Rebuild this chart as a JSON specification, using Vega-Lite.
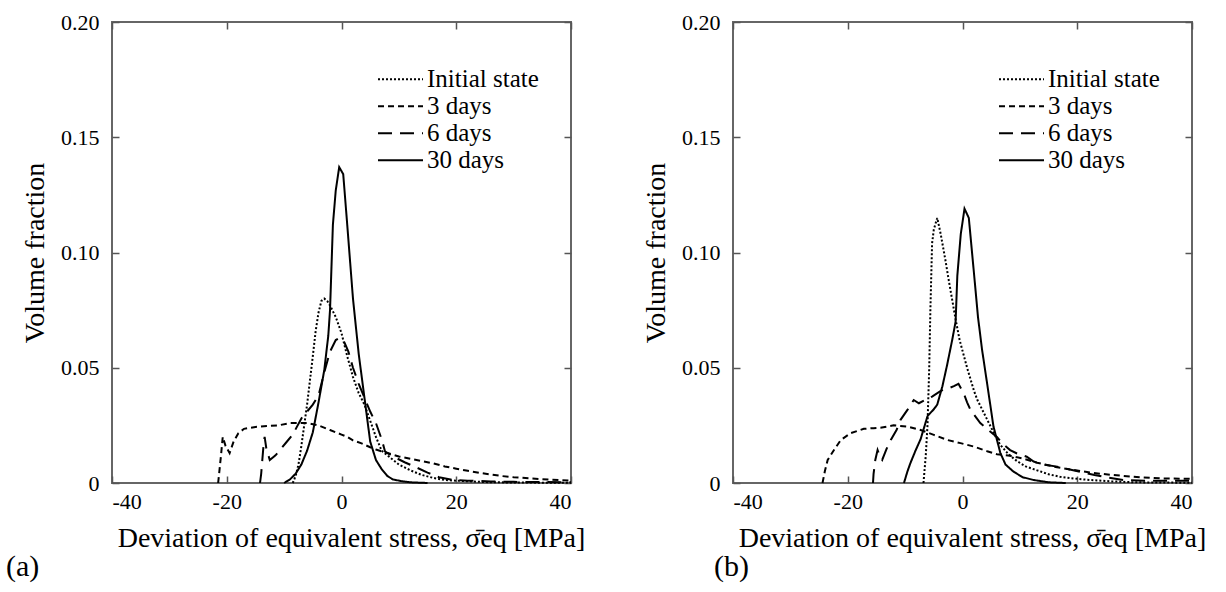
{
  "$schema": "https://vega.github.io/schema/vega-lite/v6.json",
  "padding": {"left": 5, "top": 10, "right": 5, "bottom": 2},
  "background": "white",
  "config": {
    "font": "Liberation Serif, DejaVu Serif, serif",
    "view": {"stroke": "#666", "strokeWidth": 2},
    "axis": {
      "grid": false,
      "domain": false,
      "tickColor": "#555",
      "tickWidth": 1.5,
      "tickSize": -7,
      "labelFont": "Liberation Serif, DejaVu Serif, serif",
      "labelFontSize": 22,
      "labelColor": "black",
      "titleFont": "Liberation Serif, DejaVu Serif, serif",
      "titleFontSize": 28,
      "titleFontWeight": "normal",
      "titleColor": "black"
    },
    "legend": {
      "labelFont": "Liberation Serif, DejaVu Serif, serif",
      "labelFontSize": 25,
      "labelColor": "black"
    }
  },
  "datasets": {
    "a": [
      {"series": "Initial state", "x": -8.5, "y": 0},
      {"series": "Initial state", "x": -8, "y": 0.003},
      {"series": "Initial state", "x": -7.5, "y": 0.008},
      {"series": "Initial state", "x": -7, "y": 0.016},
      {"series": "Initial state", "x": -6, "y": 0.034},
      {"series": "Initial state", "x": -5, "y": 0.055},
      {"series": "Initial state", "x": -4.5, "y": 0.066},
      {"series": "Initial state", "x": -4, "y": 0.074},
      {"series": "Initial state", "x": -3.5, "y": 0.079},
      {"series": "Initial state", "x": -3, "y": 0.080},
      {"series": "Initial state", "x": -2.5, "y": 0.079},
      {"series": "Initial state", "x": -2, "y": 0.077},
      {"series": "Initial state", "x": -1, "y": 0.072},
      {"series": "Initial state", "x": 0, "y": 0.065},
      {"series": "Initial state", "x": 1, "y": 0.055},
      {"series": "Initial state", "x": 2, "y": 0.046},
      {"series": "Initial state", "x": 3, "y": 0.039},
      {"series": "Initial state", "x": 4, "y": 0.034},
      {"series": "Initial state", "x": 5, "y": 0.027},
      {"series": "Initial state", "x": 6, "y": 0.020},
      {"series": "Initial state", "x": 7, "y": 0.014},
      {"series": "Initial state", "x": 8, "y": 0.012},
      {"series": "Initial state", "x": 9, "y": 0.010},
      {"series": "Initial state", "x": 10, "y": 0.008},
      {"series": "Initial state", "x": 12, "y": 0.0055},
      {"series": "Initial state", "x": 14, "y": 0.0035},
      {"series": "Initial state", "x": 16, "y": 0.0022},
      {"series": "Initial state", "x": 18, "y": 0.0013},
      {"series": "Initial state", "x": 20, "y": 0.001},
      {"series": "Initial state", "x": 25, "y": 0.0004},
      {"series": "Initial state", "x": 30, "y": 0.0002},
      {"series": "Initial state", "x": 40, "y": 0.0001},

      {"series": "3 days", "x": -21.5, "y": 0},
      {"series": "3 days", "x": -21, "y": 0.012},
      {"series": "3 days", "x": -20.7, "y": 0.020},
      {"series": "3 days", "x": -20.2, "y": 0.016},
      {"series": "3 days", "x": -19.5, "y": 0.013},
      {"series": "3 days", "x": -18.8, "y": 0.018},
      {"series": "3 days", "x": -18, "y": 0.0215},
      {"series": "3 days", "x": -17, "y": 0.0235},
      {"series": "3 days", "x": -15, "y": 0.0243},
      {"series": "3 days", "x": -13, "y": 0.0247},
      {"series": "3 days", "x": -11, "y": 0.025},
      {"series": "3 days", "x": -9, "y": 0.026},
      {"series": "3 days", "x": -6, "y": 0.026},
      {"series": "3 days", "x": -4, "y": 0.025},
      {"series": "3 days", "x": -2, "y": 0.023},
      {"series": "3 days", "x": 0, "y": 0.021},
      {"series": "3 days", "x": 1, "y": 0.020},
      {"series": "3 days", "x": 2, "y": 0.0185},
      {"series": "3 days", "x": 3.5, "y": 0.0172},
      {"series": "3 days", "x": 5, "y": 0.0155},
      {"series": "3 days", "x": 6, "y": 0.0145},
      {"series": "3 days", "x": 8, "y": 0.013},
      {"series": "3 days", "x": 10, "y": 0.0115},
      {"series": "3 days", "x": 12, "y": 0.0105},
      {"series": "3 days", "x": 14, "y": 0.0095},
      {"series": "3 days", "x": 16, "y": 0.0085},
      {"series": "3 days", "x": 18, "y": 0.0072},
      {"series": "3 days", "x": 20, "y": 0.0062},
      {"series": "3 days", "x": 22, "y": 0.0053},
      {"series": "3 days", "x": 24, "y": 0.0044},
      {"series": "3 days", "x": 26, "y": 0.0037},
      {"series": "3 days", "x": 28, "y": 0.003},
      {"series": "3 days", "x": 30, "y": 0.0025},
      {"series": "3 days", "x": 33, "y": 0.002},
      {"series": "3 days", "x": 36, "y": 0.0015},
      {"series": "3 days", "x": 40, "y": 0.001},

      {"series": "6 days", "x": -14.2, "y": 0},
      {"series": "6 days", "x": -14, "y": 0.004},
      {"series": "6 days", "x": -13.6, "y": 0.016},
      {"series": "6 days", "x": -13.4, "y": 0.020},
      {"series": "6 days", "x": -13.1, "y": 0.015},
      {"series": "6 days", "x": -12.5, "y": 0.010},
      {"series": "6 days", "x": -11.5, "y": 0.012},
      {"series": "6 days", "x": -10.5, "y": 0.015},
      {"series": "6 days", "x": -9.5, "y": 0.018},
      {"series": "6 days", "x": -8.5, "y": 0.021},
      {"series": "6 days", "x": -7, "y": 0.028},
      {"series": "6 days", "x": -6, "y": 0.031},
      {"series": "6 days", "x": -5, "y": 0.034},
      {"series": "6 days", "x": -4, "y": 0.038},
      {"series": "6 days", "x": -3, "y": 0.048},
      {"series": "6 days", "x": -2, "y": 0.057},
      {"series": "6 days", "x": -1, "y": 0.062},
      {"series": "6 days", "x": -0.3, "y": 0.063},
      {"series": "6 days", "x": 0.5, "y": 0.061},
      {"series": "6 days", "x": 1.2, "y": 0.057},
      {"series": "6 days", "x": 2, "y": 0.050},
      {"series": "6 days", "x": 3, "y": 0.043},
      {"series": "6 days", "x": 4, "y": 0.037},
      {"series": "6 days", "x": 5, "y": 0.031},
      {"series": "6 days", "x": 6, "y": 0.026},
      {"series": "6 days", "x": 7, "y": 0.019},
      {"series": "6 days", "x": 7.6, "y": 0.0136},
      {"series": "6 days", "x": 9, "y": 0.0115},
      {"series": "6 days", "x": 11, "y": 0.009},
      {"series": "6 days", "x": 13, "y": 0.0068},
      {"series": "6 days", "x": 15, "y": 0.0045},
      {"series": "6 days", "x": 17, "y": 0.0025},
      {"series": "6 days", "x": 19, "y": 0.0015},
      {"series": "6 days", "x": 22, "y": 0.001},
      {"series": "6 days", "x": 26, "y": 0.0007},
      {"series": "6 days", "x": 30, "y": 0.0005},
      {"series": "6 days", "x": 40, "y": 0.0003},

      {"series": "30 days", "x": -10, "y": 0},
      {"series": "30 days", "x": -9, "y": 0.0015},
      {"series": "30 days", "x": -8, "y": 0.004},
      {"series": "30 days", "x": -7, "y": 0.008},
      {"series": "30 days", "x": -6, "y": 0.014},
      {"series": "30 days", "x": -5, "y": 0.022},
      {"series": "30 days", "x": -4, "y": 0.035},
      {"series": "30 days", "x": -3, "y": 0.049},
      {"series": "30 days", "x": -2.3, "y": 0.064},
      {"series": "30 days", "x": -2, "y": 0.075},
      {"series": "30 days", "x": -1.5, "y": 0.112},
      {"series": "30 days", "x": -1, "y": 0.127},
      {"series": "30 days", "x": -0.4, "y": 0.137},
      {"series": "30 days", "x": 0.3, "y": 0.134},
      {"series": "30 days", "x": 1, "y": 0.112},
      {"series": "30 days", "x": 2, "y": 0.080},
      {"series": "30 days", "x": 3, "y": 0.056},
      {"series": "30 days", "x": 4, "y": 0.037},
      {"series": "30 days", "x": 5, "y": 0.018},
      {"series": "30 days", "x": 6, "y": 0.010},
      {"series": "30 days", "x": 7, "y": 0.006},
      {"series": "30 days", "x": 8, "y": 0.003},
      {"series": "30 days", "x": 9, "y": 0.0015},
      {"series": "30 days", "x": 10.5, "y": 0.0008},
      {"series": "30 days", "x": 12, "y": 0.0003},
      {"series": "30 days", "x": 15, "y": 0}
    ],
    "b": [
      {"series": "Initial state", "x": -6.8, "y": 0},
      {"series": "Initial state", "x": -6.4, "y": 0.012},
      {"series": "Initial state", "x": -6.1, "y": 0.025},
      {"series": "Initial state", "x": -5.8, "y": 0.05},
      {"series": "Initial state", "x": -5.6, "y": 0.075},
      {"series": "Initial state", "x": -5.3, "y": 0.104},
      {"series": "Initial state", "x": -5, "y": 0.110},
      {"series": "Initial state", "x": -4.4, "y": 0.115},
      {"series": "Initial state", "x": -3.8, "y": 0.108},
      {"series": "Initial state", "x": -3, "y": 0.097},
      {"series": "Initial state", "x": -2.4, "y": 0.088},
      {"series": "Initial state", "x": -1.2, "y": 0.071},
      {"series": "Initial state", "x": -0.5, "y": 0.062},
      {"series": "Initial state", "x": 0.8, "y": 0.050},
      {"series": "Initial state", "x": 2, "y": 0.040},
      {"series": "Initial state", "x": 2.6, "y": 0.036},
      {"series": "Initial state", "x": 4, "y": 0.029},
      {"series": "Initial state", "x": 4.9, "y": 0.0245},
      {"series": "Initial state", "x": 6, "y": 0.019},
      {"series": "Initial state", "x": 6.6, "y": 0.0165},
      {"series": "Initial state", "x": 8, "y": 0.0125},
      {"series": "Initial state", "x": 9.5, "y": 0.0095},
      {"series": "Initial state", "x": 11, "y": 0.0072},
      {"series": "Initial state", "x": 13, "y": 0.0055},
      {"series": "Initial state", "x": 15, "y": 0.0038},
      {"series": "Initial state", "x": 17, "y": 0.0027},
      {"series": "Initial state", "x": 20, "y": 0.0018},
      {"series": "Initial state", "x": 22.3, "y": 0.0013},
      {"series": "Initial state", "x": 26, "y": 0.0007},
      {"series": "Initial state", "x": 30, "y": 0.0003},
      {"series": "Initial state", "x": 40, "y": 0.0001},

      {"series": "3 days", "x": -24.4, "y": 0},
      {"series": "3 days", "x": -24, "y": 0.005},
      {"series": "3 days", "x": -23.5, "y": 0.010},
      {"series": "3 days", "x": -22.4, "y": 0.0143},
      {"series": "3 days", "x": -21.2, "y": 0.0187},
      {"series": "3 days", "x": -19.5, "y": 0.0216},
      {"series": "3 days", "x": -17.2, "y": 0.0235},
      {"series": "3 days", "x": -15.5, "y": 0.0238},
      {"series": "3 days", "x": -14.3, "y": 0.024},
      {"series": "3 days", "x": -12, "y": 0.025},
      {"series": "3 days", "x": -9.6, "y": 0.0245},
      {"series": "3 days", "x": -7.3, "y": 0.023},
      {"series": "3 days", "x": -5, "y": 0.0209},
      {"series": "3 days", "x": -2.7, "y": 0.0187},
      {"series": "3 days", "x": -0.35, "y": 0.0173},
      {"series": "3 days", "x": 2, "y": 0.0158},
      {"series": "3 days", "x": 4.3, "y": 0.0138},
      {"series": "3 days", "x": 6, "y": 0.0125},
      {"series": "3 days", "x": 8.3, "y": 0.0118},
      {"series": "3 days", "x": 10.7, "y": 0.0105},
      {"series": "3 days", "x": 13, "y": 0.0088},
      {"series": "3 days", "x": 16.5, "y": 0.0068},
      {"series": "3 days", "x": 19, "y": 0.0058},
      {"series": "3 days", "x": 22.3, "y": 0.0045},
      {"series": "3 days", "x": 26, "y": 0.0035},
      {"series": "3 days", "x": 31, "y": 0.0025},
      {"series": "3 days", "x": 35, "y": 0.002},
      {"series": "3 days", "x": 40, "y": 0.0018},

      {"series": "6 days", "x": -15.6, "y": 0},
      {"series": "6 days", "x": -15.5, "y": 0.004},
      {"series": "6 days", "x": -15.2, "y": 0.010},
      {"series": "6 days", "x": -14.8, "y": 0.0143},
      {"series": "6 days", "x": -14.3, "y": 0.011},
      {"series": "6 days", "x": -14, "y": 0.010},
      {"series": "6 days", "x": -13.2, "y": 0.015},
      {"series": "6 days", "x": -12.5, "y": 0.0187},
      {"series": "6 days", "x": -11.5, "y": 0.023},
      {"series": "6 days", "x": -10.8, "y": 0.0274},
      {"series": "6 days", "x": -9.6, "y": 0.0317},
      {"series": "6 days", "x": -8.5, "y": 0.036},
      {"series": "6 days", "x": -7.6, "y": 0.0346},
      {"series": "6 days", "x": -6.5, "y": 0.036},
      {"series": "6 days", "x": -5.3, "y": 0.0375},
      {"series": "6 days", "x": -3.8, "y": 0.040},
      {"series": "6 days", "x": -2.5, "y": 0.041},
      {"series": "6 days", "x": -1.5, "y": 0.042},
      {"series": "6 days", "x": -0.7, "y": 0.043},
      {"series": "6 days", "x": 0.2, "y": 0.039},
      {"series": "6 days", "x": 0.8, "y": 0.035},
      {"series": "6 days", "x": 1.4, "y": 0.0317},
      {"series": "6 days", "x": 2.2, "y": 0.029},
      {"series": "6 days", "x": 3.1, "y": 0.026},
      {"series": "6 days", "x": 4.5, "y": 0.023},
      {"series": "6 days", "x": 6, "y": 0.020},
      {"series": "6 days", "x": 7, "y": 0.017},
      {"series": "6 days", "x": 8.3, "y": 0.0143},
      {"series": "6 days", "x": 9.5, "y": 0.0128},
      {"series": "6 days", "x": 11.2, "y": 0.0114},
      {"series": "6 days", "x": 12.4, "y": 0.0093},
      {"series": "6 days", "x": 14, "y": 0.008},
      {"series": "6 days", "x": 16.5, "y": 0.0071},
      {"series": "6 days", "x": 18.5, "y": 0.006},
      {"series": "6 days", "x": 20.5, "y": 0.0049},
      {"series": "6 days", "x": 23, "y": 0.0035},
      {"series": "6 days", "x": 25, "y": 0.0025},
      {"series": "6 days", "x": 28, "y": 0.0013},
      {"series": "6 days", "x": 32, "y": 0.001},
      {"series": "6 days", "x": 36, "y": 0.001},
      {"series": "6 days", "x": 40, "y": 0.001},

      {"series": "30 days", "x": -10.2, "y": 0},
      {"series": "30 days", "x": -9.6, "y": 0.005},
      {"series": "30 days", "x": -9.1, "y": 0.0085},
      {"series": "30 days", "x": -8.2, "y": 0.014},
      {"series": "30 days", "x": -7.3, "y": 0.019},
      {"series": "30 days", "x": -6.1, "y": 0.029},
      {"series": "30 days", "x": -5, "y": 0.032},
      {"series": "30 days", "x": -4.4, "y": 0.034},
      {"series": "30 days", "x": -3.5, "y": 0.042},
      {"series": "30 days", "x": -2.7, "y": 0.051},
      {"series": "30 days", "x": -1.8, "y": 0.062},
      {"series": "30 days", "x": -1.2, "y": 0.070},
      {"series": "30 days", "x": -0.9, "y": 0.090},
      {"series": "30 days", "x": -0.3, "y": 0.108},
      {"series": "30 days", "x": 0.35, "y": 0.119},
      {"series": "30 days", "x": 1.1, "y": 0.115},
      {"series": "30 days", "x": 2, "y": 0.091},
      {"series": "30 days", "x": 2.7, "y": 0.072},
      {"series": "30 days", "x": 3.4, "y": 0.058},
      {"series": "30 days", "x": 4.3, "y": 0.043},
      {"series": "30 days", "x": 5.4, "y": 0.0245},
      {"series": "30 days", "x": 6.6, "y": 0.013},
      {"series": "30 days", "x": 7.5, "y": 0.008},
      {"series": "30 days", "x": 8.9, "y": 0.0049},
      {"series": "30 days", "x": 10.5, "y": 0.0025},
      {"series": "30 days", "x": 12.4, "y": 0.0013},
      {"series": "30 days", "x": 15, "y": 0.0003},
      {"series": "30 days", "x": 18, "y": 0}
    ]
  },
  "bounds": "flush",
  "spacing": 162,
  "resolve": {"scale": {"strokeDash": "independent"}, "legend": {"strokeDash": "independent"}},
  "hconcat": [
    {
      "width": 459,
      "height": 461,
      "data": {"name": "a"},
      "title": {"text": "(a)", "orient": "bottom", "anchor": "start", "frame": "group", "dx": -106, "offset": 0, "fontSize": 30, "fontWeight": "normal", "font": "Liberation Serif, DejaVu Serif, serif", "color": "black"},
      "layer": [
        {
          "mark": {"type": "line", "color": "black", "strokeWidth": 2},
          "encoding": {
            "x": {"field": "x", "type": "quantitative", "scale": {"domain": [-40, 40], "nice": false, "zero": false}, "axis": {"orient": "bottom", "values": [-40, -20, 0, 20, 40], "labelExpr": "'' + datum.value", "labelPadding": 15, "title": "Deviation of equivalent stress, σ̄eq  [MPa]", "titlePadding": 12, "titleX": 239}},
            "y": {"field": "y", "type": "quantitative", "scale": {"domain": [0, 0.2], "nice": false}, "axis": {"orient": "left", "values": [0, 0.05, 0.1, 0.15, 0.2], "labelExpr": "datum.value == 0 ? '0' : format(datum.value, '.2f')", "labelPadding": 20, "title": "Volume fraction", "titlePadding": 11}},
            "strokeDash": {"field": "series", "type": "nominal", "scale": {"domain": ["Initial state", "3 days", "6 days", "30 days"], "range": [[2, 2], [6, 4], [14, 8], [1, 0]]}, "legend": {"orient": "none", "legendX": 265, "legendY": 44, "title": null, "symbolType": "stroke", "symbolSize": 2025, "symbolStrokeWidth": 2, "symbolStrokeColor": "black", "labelOffset": 3, "rowPadding": 0, "clipHeight": 26.5}}
          }
        },
        {
          "mark": {"type": "line", "strokeOpacity": 0},
          "encoding": {
            "x": {"field": "x", "type": "quantitative", "scale": {"domain": [-40, 40], "nice": false, "zero": false}, "axis": {"orient": "top", "values": [-40, -20, 0, 20, 40], "labels": false, "title": null}},
            "y": {"field": "y", "type": "quantitative", "scale": {"domain": [0, 0.2], "nice": false}, "axis": {"orient": "right", "values": [0, 0.05, 0.1, 0.15, 0.2], "labels": false, "title": null}},
            "detail": {"field": "series"}
          }
        }
      ],
      "resolve": {"axis": {"x": "independent", "y": "independent"}}
    },
    {
      "width": 459,
      "height": 461,
      "data": {"name": "b"},
      "title": {"text": "(b)", "orient": "bottom", "anchor": "start", "frame": "group", "dx": -19, "offset": 0, "fontSize": 30, "fontWeight": "normal", "font": "Liberation Serif, DejaVu Serif, serif", "color": "black"},
      "layer": [
        {
          "mark": {"type": "line", "color": "black", "strokeWidth": 2},
          "encoding": {
            "x": {"field": "x", "type": "quantitative", "scale": {"domain": [-40, 40], "nice": false, "zero": false}, "axis": {"orient": "bottom", "values": [-40, -20, 0, 20, 40], "labelExpr": "'' + datum.value", "labelPadding": 15, "title": "Deviation of equivalent stress, σ̄eq  [MPa]", "titlePadding": 12, "titleX": 239}},
            "y": {"field": "y", "type": "quantitative", "scale": {"domain": [0, 0.2], "nice": false}, "axis": {"orient": "left", "values": [0, 0.05, 0.1, 0.15, 0.2], "labelExpr": "datum.value == 0 ? '0' : format(datum.value, '.2f')", "labelPadding": 20, "title": "Volume fraction", "titlePadding": 11}},
            "strokeDash": {"field": "series", "type": "nominal", "scale": {"domain": ["Initial state", "3 days", "6 days", "30 days"], "range": [[2, 2], [6, 4], [14, 8], [1, 0]]}, "legend": {"orient": "none", "legendX": 265, "legendY": 44, "title": null, "symbolType": "stroke", "symbolSize": 2025, "symbolStrokeWidth": 2, "symbolStrokeColor": "black", "labelOffset": 3, "rowPadding": 0, "clipHeight": 26.5}}
          }
        },
        {
          "mark": {"type": "line", "strokeOpacity": 0},
          "encoding": {
            "x": {"field": "x", "type": "quantitative", "scale": {"domain": [-40, 40], "nice": false, "zero": false}, "axis": {"orient": "top", "values": [-40, -20, 0, 20, 40], "labels": false, "title": null}},
            "y": {"field": "y", "type": "quantitative", "scale": {"domain": [0, 0.2], "nice": false}, "axis": {"orient": "right", "values": [0, 0.05, 0.1, 0.15, 0.2], "labels": false, "title": null}},
            "detail": {"field": "series"}
          }
        }
      ],
      "resolve": {"axis": {"x": "independent", "y": "independent"}}
    }
  ]
}
